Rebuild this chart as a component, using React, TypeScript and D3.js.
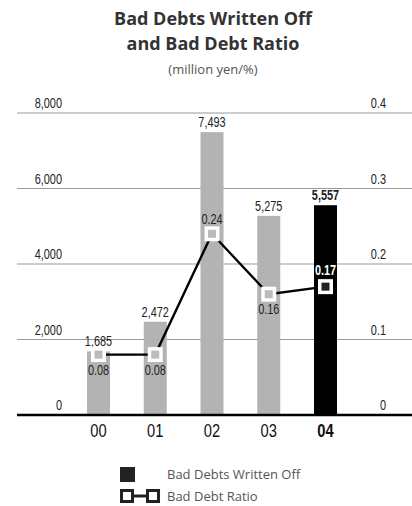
import React from "react";
import * as d3 from "d3";

const categories = ["00", "01", "02", "03", "04"];
const badDebts = [1685, 2472, 7493, 5275, 5557];
const badDebtLabels = ["1,685", "2,472", "7,493", "5,275", "5,557"];
const ratios = [0.08, 0.08, 0.24, 0.16, 0.17];
const leftTicks = [0, 2000, 4000, 6000, 8000];
const rightTicks = [0, 0.1, 0.2, 0.3, 0.4];

const W = 412;
const H = 506;
const NARROW = "'Liberation Sans', Arial, sans-serif";
const SANS = "'Open Sans', 'Noto Sans', sans-serif";

type TProps = {
  x: number;
  y: number;
  anchor?: "start" | "middle" | "end";
  size?: number;
  weight?: number;
  fill?: string;
  sx?: number;
  children: React.ReactNode;
};

function NT({ x, y, anchor = "middle", size = 14, weight = 400, fill = "#222", sx = 0.78, children }: TProps) {
  return (
    <text
      transform={`translate(${x},${y}) scale(${sx},1)`}
      textAnchor={anchor}
      fontFamily={NARROW}
      fontSize={size}
      fontWeight={weight}
      fill={fill}
    >
      {children}
    </text>
  );
}

export default function App() {
  const x = d3.scalePoint<string>().domain(categories).range([98.5, 325.5]);
  const yL = d3.scaleLinear().domain([0, 8000]).range([415, 113]);
  const yR = d3.scaleLinear().domain([0, 0.4]).range([415, 113]);
  const barW = 23;
  const last = categories.length - 1;
  const line = d3
    .line<number>()
    .x((_, i) => x(categories[i]) as number)
    .y((d) => yR(d));
  const fmtR = d3.format(".1f");
  const fmtL = d3.format(",");

  return (
    <svg width={W} height={H} style={{ position: "absolute", left: 0, top: 0 }}>
      <rect width={W} height={H} fill="#fff" />
      <text x={213} y={25} textAnchor="middle" fontFamily={SANS} fontWeight={700} fontSize={18} fill="#333">
        Bad Debts Written Off
      </text>
      <text x={213} y={50} textAnchor="middle" fontFamily={SANS} fontWeight={700} fontSize={18} fill="#333">
        and Bad Debt Ratio
      </text>
      <text x={213} y={74} textAnchor="middle" fontFamily={SANS} fontSize={13} fill="#555">
        (million yen/%)
      </text>

      {leftTicks.map((t) =>
        t === 0 ? null : (
          <line key={"g" + t} x1={17} x2={W} y1={yL(t)} y2={yL(t)} stroke="#999" strokeWidth={1} />
        )
      )}
      {leftTicks.map((t) => (
        <NT key={"l" + t} x={62} y={yL(t) - 5} anchor="end">
          {fmtL(t)}
        </NT>
      ))}
      {rightTicks.map((t) => (
        <NT key={"r" + t} x={386} y={yR(t) - 5} anchor="end">
          {t === 0 ? "0" : fmtR(t)}
        </NT>
      ))}

      {badDebts.map((v, i) => (
        <rect
          key={"b" + i}
          x={(x(categories[i]) as number) - barW / 2}
          y={yL(v)}
          width={barW}
          height={yL(0) - yL(v)}
          fill={i === last ? "#000" : "#b3b3b3"}
        />
      ))}
      <line x1={17} x2={W} y1={yL(0)} y2={yL(0)} stroke="#000" strokeWidth={2.6} />

      {badDebts.map((v, i) => (
        <NT key={"bl" + i} x={x(categories[i]) as number} y={yL(v) - 5} weight={i === last ? 700 : 400}>
          {badDebtLabels[i]}
        </NT>
      ))}

      <path d={line(ratios) || ""} fill="none" stroke="#000" strokeWidth={2.4} />
      {ratios.map((r, i) => {
        const cx = x(categories[i]) as number;
        const cy = yR(r);
        return (
          <g key={"m" + i}>
            <rect x={cx - 7.5} y={cy - 7.5} width={15} height={15} fill="#fff" />
            <rect x={cx - 4} y={cy - 4} width={8} height={8} fill={i === last ? "#222" : "#bbb"} />
          </g>
        );
      })}
      {ratios.map((r, i) => {
        const cx = x(categories[i]) as number;
        const cy = yR(r);
        const above = i >= 2 && i !== 3;
        return (
          <NT
            key={"rl" + i}
            x={cx}
            y={above ? cy - 10 - (i === last ? 2 : 0) : cy + 20}
            weight={i === last ? 700 : 400}
            fill={i === last ? "#fff" : "#222"}
          >
            {r.toFixed(2)}
          </NT>
        );
      })}

      {categories.map((c, i) => (
        <NT key={"c" + c} x={x(c) as number} y={437} size={17.5} sx={0.84} weight={i === last ? 700 : 400} fill="#111">
          {c}
        </NT>
      ))}

      <rect x={120} y={467} width={15} height={15} fill="#222" />
      <text x={167} y={479} fontFamily={SANS} fontSize={13} fill="#555">
        Bad Debts Written Off
      </text>
      <line x1={127} x2={153} y1={496} y2={496} stroke="#222" strokeWidth={3} />
      <rect x={121.5} y={490.5} width={11} height={11} fill="#fff" stroke="#222" strokeWidth={3} />
      <rect x={147.5} y={490.5} width={11} height={11} fill="#fff" stroke="#222" strokeWidth={3} />
      <text x={167} y={501} fontFamily={SANS} fontSize={13} fill="#555">
        Bad Debt Ratio
      </text>
    </svg>
  );
}
